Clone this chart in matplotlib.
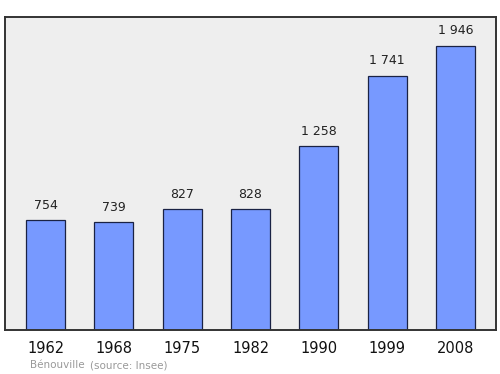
import matplotlib.pyplot as plt
import numpy as np

years = ['1962', '1968', '1975', '1982', '1990', '1999', '2008']
population = [754, 739, 827, 828, 1258, 1741, 1946]
labels = ['754', '739', '827', '828', '1 258', '1 741', '1 946']

fig = plt.figure(figsize=(5, 3.74), dpi=100)
ax = fig.add_axes([0.01, 0.1176, 0.982, 0.837])
ax.set_facecolor('#eeeeee')

x = np.arange(len(years))
ax.bar(x, population, width=0.57, color='#7799ff', edgecolor='#1a2244', linewidth=0.9, zorder=2)

for xi, val, lab in zip(x, population, labels):
    ax.annotate(lab, (xi, val), xytext=(0, 6), textcoords='offset points',
                ha='center', va='bottom', fontsize=9, color='#222222')

ax.set_xlim(-0.593, 6.593)
ax.set_ylim(0, 2143)
ax.set_yticks([])
ax.set_xticks(x)
ax.set_xticklabels(years, fontsize=10.5, color='#111111')
ax.tick_params(axis='x', length=0, pad=8)

for s in ax.spines.values():
    s.set_color('#333333')
    s.set_linewidth(1.4)

fig.text(0.06, 0.016, 'Bénouville', fontsize=7.5, color='#999999')
fig.text(0.18, 0.016, '(source: Insee)', fontsize=7.5, color='#999999')

fig.savefig('out.png', dpi=100)
